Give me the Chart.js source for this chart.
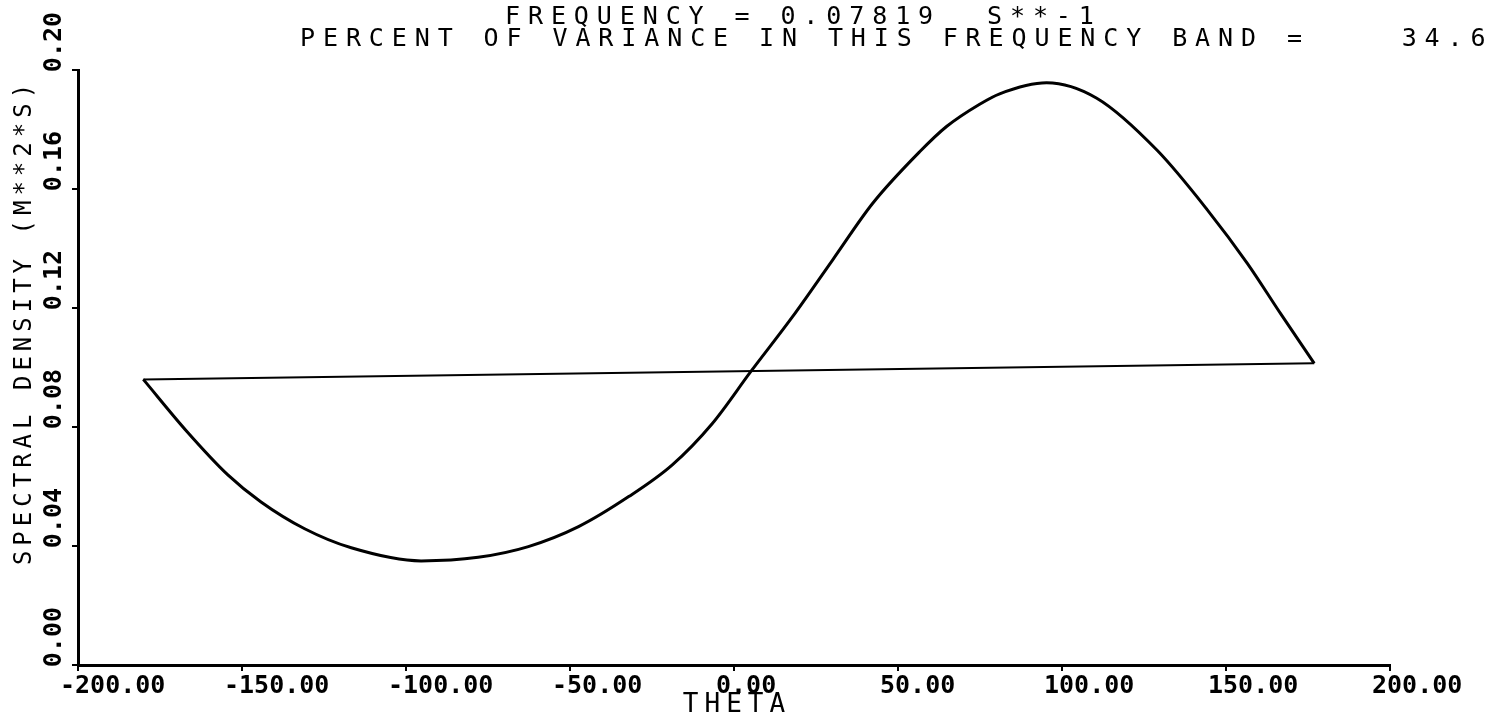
<!DOCTYPE html>
<html>
<head>
<meta charset="utf-8">
<script src="https://cdn.jsdelivr.net/npm/chart.js@4"></script>
<style>
  html, body { margin: 0; padding: 0; background: #fff; }
  #wrap { width: 1495px; height: 714px; }
</style>
</head>
<body>
<div id="wrap"><canvas id="chart"></canvas></div>
<script>
// valores (theta em graus, densidade espectral)
const theta = [-180.1, -166.8, -154.4, -144.2, -130.9, -116.7, -95.4, -78.0, -62.7, -47.4,
               -32.1, -18.9, -6.6, 5.1, 17.8, 30.1, 42.3, 56.6, 64.8, 74.9,
               81.0, 95.3, 110.6, 129.0, 144.3, 156.5, 166.7, 176.9];
const density = [0.0960, 0.0785, 0.0640, 0.0548, 0.0458, 0.0394, 0.0350, 0.0362, 0.0398, 0.0465,
                 0.0566, 0.0672, 0.0812, 0.0986, 0.1170, 0.1362, 0.1552, 0.1725, 0.1810, 0.1885,
                 0.1920, 0.1957, 0.1905, 0.1730, 0.1530, 0.1350, 0.1180, 0.1014];

const xTicks = [-200, -150, -100, -50, 0, 50, 100, 150, 200];
const yTicks = [0, 0.04, 0.08, 0.12, 0.16, 0.20];

const titleLines = [
    "FREQUENCY = 0.07819  S**-1",
    "PERCENT OF VARIANCE IN THIS FREQUENCY BAND =    34.6"
];
const xTitle = "THETA";
const yTitle = "SPECTRAL DENSITY (M**2*S)";

const curve = theta.map((t, i) => ({ x: t, y: density[i] }));
// o plotter fecha a figura: volta do último ponto ao primeiro
const last = theta.length - 1;
const closing = [
    { x: theta[0], y: density[0] },
    { x: theta[last], y: density[last] }
];

const tickFont = { family: "'DejaVu Sans Mono'", size: 25, weight: "bold" };

// textos do plotter (título e nomes dos eixos), com espaçamento largo
const plotterText = {
    id: "plotterText",
    afterDraw(chart) {
        const ctx = chart.ctx;
        const area = chart.chartArea;
        ctx.save();
        ctx.fillStyle = "#000";
        ctx.font = "25px 'DejaVu Sans Mono'";
        ctx.letterSpacing = "7.9px";
        ctx.textAlign = "left";
        ctx.textBaseline = "alphabetic";
        ctx.fillText(titleLines[0], 505, 24);
        ctx.fillText(titleLines[1], 300, 46);

        ctx.font = "26px 'DejaVu Sans Mono'";
        ctx.letterSpacing = "6px";
        ctx.textAlign = "center";
        ctx.fillText(xTitle, (area.left + area.right) / 2 + 3, 712);

        ctx.font = "24px 'DejaVu Sans Mono'";
        ctx.letterSpacing = "5px";
        ctx.translate(31, 322);
        ctx.rotate(-Math.PI / 2);
        ctx.fillText(yTitle, 0, 0);
        ctx.restore();
    }
};

const ctx = document.getElementById("chart").getContext("2d");
window.myChart = new Chart(ctx, {
    type: "line",
    data: {
        datasets: [
            {
                data: curve,
                borderColor: "#000",
                borderWidth: 3,
                pointRadius: 0,
                fill: false,
                cubicInterpolationMode: "monotone"
            },
            {
                data: closing,
                borderColor: "#000",
                borderWidth: 2,
                pointRadius: 0,
                fill: false
            }
        ]
    },
    options: {
        responsive: true,
        maintainAspectRatio: false,
        animation: false,
        layout: { padding: { top: 70, right: 105, left: 0, bottom: 0 } },
        plugins: {
            legend: { display: false },
            tooltip: { enabled: false },
            title: { display: false }
        },
        scales: {
            x: {
                type: "linear",
                min: -200,
                max: 200,
                afterBuildTicks: s => { s.ticks = xTicks.map(v => ({ value: v })); },
                afterFit: s => { s.height = 49; },
                ticks: {
                    autoSkip: false,
                    align: "start",
                    labelOffset: -18,
                    padding: 0,
                    color: "#000",
                    font: tickFont,
                    callback: v => Number(v).toFixed(2)
                },
                grid: { drawOnChartArea: false, tickLength: 6, color: "#000", lineWidth: 2 },
                border: { color: "#000", width: 3 }
            },
            y: {
                type: "linear",
                min: 0,
                max: 0.2,
                afterBuildTicks: s => { s.ticks = yTicks.map(v => ({ value: v })); },
                afterFit: s => { s.width = 78; },
                ticks: {
                    autoSkip: false,
                    minRotation: 90,
                    maxRotation: 90,
                    crossAlign: "near",
                    padding: 18,
                    labelOffset: -58,
                    color: "#000",
                    font: tickFont,
                    callback: v => Number(v).toFixed(2)
                },
                grid: { drawOnChartArea: false, tickLength: 6, color: "#000", lineWidth: 2 },
                border: { color: "#000", width: 3 }
            }
        }
    },
    plugins: [plotterText]
});
</script>
</body>
</html>
